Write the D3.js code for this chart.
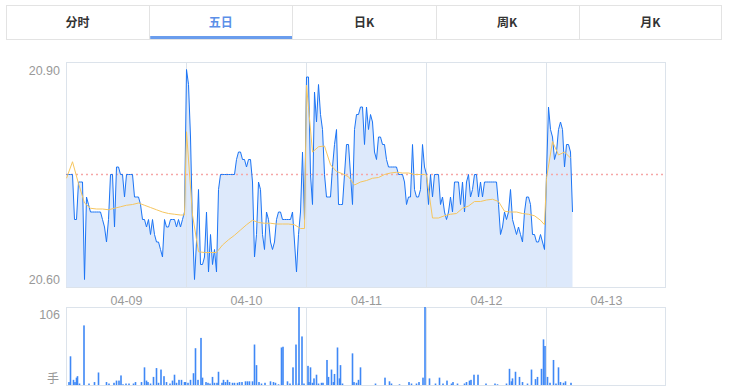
<!DOCTYPE html>
<html><head><meta charset="utf-8">
<script src="https://cdn.jsdelivr.net/npm/d3@7/dist/d3.min.js"></script>
<style>
body{margin:0;background:#fff;font-family:"Liberation Sans",Arial,"Noto Sans CJK SC",sans-serif;}
svg{display:block}
</style></head><body>
<svg id="c" width="729" height="391"></svg>
<script>
// ---------- data ----------
const tabs = ["分时","五日","日K","周K","月K"];
const activeTab = "五日";
const dates = ["04-09","04-10","04-11","04-12","04-13"];
const prevClose = 20.75;
const priceTicks = [20.60, 20.90];
const volMax = 106;
const volUnit = "手";
const minutesPerDay = 240;
const priceStep = 4;   // minutes between price samples
const avgStep = 12;    // minutes between average samples

const day1Price = [20.75,20.75,20.75,20.75,20.69,20.69,20.74,20.74,20.74,20.61,
 20.72,20.71,20.70,20.70,20.70,20.70,20.70,20.70,20.69,20.68,
 20.66,20.69,20.75,20.75,20.68,20.76,20.76,20.75,20.75,20.72,
 20.75,20.75,20.75,20.75,20.72,20.72,20.72,20.71,20.69,20.69,
 20.68,20.69,20.67,20.69,20.67,20.66,20.66,20.65,20.64,20.69,
 20.68,20.68,20.69,20.69,20.69,20.68,20.69,20.68,20.69,20.70];
const day2Price = [20.89,20.87,20.80,20.68,20.61,20.66,20.73,20.63,20.63,20.64,
 20.70,20.62,20.67,20.63,20.65,20.62,20.73,20.75,20.75,20.75,
 20.75,20.75,20.75,20.75,20.75,20.77,20.78,20.78,20.77,20.77,
 20.76,20.77,20.77,20.74,20.64,20.67,20.74,20.73,20.67,20.65,
 20.70,20.69,20.66,20.65,20.66,20.69,20.70,20.70,20.69,20.69,
 20.69,20.69,20.69,20.70,20.66,20.62,20.67,20.70,20.78,20.69];
const day3Price = [20.88,20.88,20.75,20.71,20.86,20.82,20.87,20.83,20.81,20.75,
 20.72,20.72,20.72,20.76,20.79,20.81,20.71,20.71,20.71,20.75,
 20.79,20.79,20.75,20.71,20.81,20.83,20.83,20.84,20.84,20.79,
 20.84,20.81,20.83,20.82,20.78,20.77,20.80,20.80,20.79,20.79,
 20.77,20.76,20.76,20.76,20.76,20.76,20.75,20.75,20.75,20.74,
 20.71,20.72,20.72,20.79,20.73,20.72,20.72,20.73,20.79,20.76];
const day4Price = [20.75,20.71,20.75,20.72,20.75,20.75,20.75,20.71,20.72,20.70,
 20.69,20.70,20.72,20.70,20.74,20.74,20.74,20.71,20.74,20.70,
 20.74,20.75,20.72,20.73,20.75,20.75,20.72,20.74,20.72,20.74,
 20.74,20.74,20.74,20.74,20.74,20.74,20.71,20.67,20.68,20.70,
 20.69,20.70,20.73,20.69,20.68,20.67,20.68,20.67,20.66,20.70,
 20.72,20.72,20.71,20.67,20.67,20.66,20.66,20.67,20.66,20.65];
const day5Price = [20.75,20.84,20.81,20.80,20.77,20.78,20.81,20.82,20.81,20.76,20.79,20.79,20.78,20.70];

const day1Avg = [20.745,20.767,20.738,20.712,20.705,20.704,20.704,20.703,20.705,20.707,20.709,20.710,20.712,20.709,20.706,20.703,20.700,20.698,20.697,20.696,20.696];
const day2Avg = [20.807,20.696,20.647,20.646,20.646,20.646,20.656,20.663,20.669,20.676,20.683,20.689,20.686,20.685,20.685,20.684,20.684,20.684,20.683,20.678,20.678];
const day3Avg = [20.869,20.780,20.787,20.788,20.763,20.754,20.751,20.747,20.736,20.740,20.742,20.745,20.746,20.750,20.752,20.753,20.752,20.752,20.750,20.750,20.750];
const day4Avg = [20.749,20.692,20.692,20.695,20.697,20.698,20.705,20.708,20.714,20.714,20.716,20.717,20.714,20.701,20.700,20.700,20.698,20.697,20.695,20.689,20.683];
const day5Avg = [20.745,20.794,20.776,20.780,20.772];

// [minute from start of 5-day window, volume]
const volumes = [
 [6,4],[9,39],[15,7],[18,4],[21,10],[23,12],[27,2],[36,81],[46,2],[57,4],[65,17],[81,4],[86,2],[96,3],[101,6],[106,6],[110,13],[114,1],[120,2],[126,2],[135,2],[139,4],[151,4],[157,24],[161,6],[164,4],[169,2],[175,11],[181,23],[185,3],[190,21],[196,12],[201,4],[208,2],[213,6],[217,14],[221,3],[226,7],[231,7],[237,4],
 [239,4],[244,3],[249,7],[255,16],[259,50],[264,7],[270,64],[273,10],[280,4],[284,3],[288,2],[293,11],[297,3],[302,3],[305,18],[312,3],[315,7],[319,4],[323,7],[327,4],[333,3],[337,3],[343,3],[347,4],[352,4],[359,5],[363,5],[367,5],[373,5],[377,55],[381,27],[386,4],[391,2],[398,3],[409,5],[415,4],[419,3],[425,1],[431,51],[434,52],[443,5],[448,2],[454,24],[460,55],[465,2],[466,106],[472,66],[476,2],
 [484,26],[486,4],[489,24],[493,3],[496,9],[501,14],[505,2],[511,3],[514,3],[522,34],[525,11],[531,21],[535,4],[537,15],[543,51],[547,9],[549,27],[553,2],[573,43],[576,4],[581,3],[585,7],[589,24],[619,2],[638,10],[647,5],[651,2],[667,1],[686,4],[691,2],[701,2],[706,4],[714,10],[718,106],
 [727,9],[739,2],[747,10],[754,2],[762,6],[771,2],[774,4],[783,2],[797,2],[801,4],[807,6],[810,7],[816,14],[824,14],[840,2],[858,2],[863,1],[881,2],[887,22],[891,5],[893,9],[899,18],[907,11],[913,4],[923,2],[931,21],[939,8],[943,11],[951,22],[955,62],[958,53],[963,11],[968,3],[975,34],[980,2],[985,24],[989,4],[995,3],[999,5],[1010,3]
];

// ---------- build series ----------
const priceDays = [day1Price, day2Price, day3Price, day4Price, day5Price];
const avgDays = [day1Avg, day2Avg, day3Avg, day4Avg, day5Avg];
const pricePts = [];
priceDays.forEach((arr, d) => arr.forEach((v, i) => pricePts.push({m: d*minutesPerDay + i*priceStep + 1, v})));
const avgPts = [];
avgDays.forEach((arr, d) => {
  const last = (priceDays[d].length - 1) * priceStep + 1;
  arr.forEach((v, j) => avgPts.push({m: d*minutesPerDay + Math.min(j*avgStep + 1, last), v}));
});

// ---------- layout ----------
const svg = d3.select("#c");
const W = 729;
const plotL = 66, plotR = 666;
const pTop = 62, pBot = 287;
const vTop = 307, vBot = 385;
const gridColor = "#dce3eb";

// tabs
const tabL = 6, tabR = 722, tabT = 5, tabB = 39;
const tabX = d3.scaleBand().domain(tabs).range([tabL, tabR]);
const tg = svg.append("g");
tg.append("rect").attr("x", tabL+0.5).attr("y", tabT+0.5).attr("width", tabR-tabL-1).attr("height", tabB-tabT)
  .attr("fill", "#fff").attr("stroke", "#e3e3e3");
tabs.forEach((t, i) => {
  const x0 = tabX(t);
  if (i > 0) tg.append("line").attr("x1", Math.round(x0)+0.5).attr("x2", Math.round(x0)+0.5)
     .attr("y1", tabT).attr("y2", tabB).attr("stroke", "#e3e3e3");
  const active = t === activeTab;
  tg.append("text").attr("x", x0 + tabX.bandwidth()/2).attr("y", 26.5)
    .attr("text-anchor", "middle").attr("font-size", 12).attr("font-weight", "bold")
    .attr("font-family", "'Noto Sans CJK SC','Liberation Sans',sans-serif")
    .attr("fill", active ? "#5b8fe8" : "#333").text(t);
  if (active) tg.append("rect").attr("x", x0+1).attr("y", tabB-3).attr("width", tabX.bandwidth()-1).attr("height", 3)
    .attr("fill", "#6a9ded");
});

// scales
const x = d3.scaleLinear().domain([0, dates.length*minutesPerDay]).range([plotL, plotR]);
const y = d3.scaleLinear().domain([priceTicks[0], priceTicks[1]]).range([pBot, pTop]);
const yv = d3.scaleLinear().domain([0, volMax]).range([vBot, vTop]);

// price panel
svg.append("rect").attr("x", plotL+0.5).attr("y", pTop+0.5).attr("width", plotR-plotL-1).attr("height", pBot-pTop)
  .attr("fill", "#fff").attr("stroke", gridColor);

svg.append("path").datum(pricePts)
  .attr("fill", "#dde9fb")
  .attr("d", d3.area().x(d => x(d.m)).y0(pBot).y1(d => y(d.v)));

// day separators
const seps = d3.range(1, dates.length).map(d => d*minutesPerDay);
svg.append("g").selectAll("line").data(seps).join("line")
  .attr("x1", d => Math.round(x(d))+0.5).attr("x2", d => Math.round(x(d))+0.5)
  .attr("y1", pTop).attr("y2", pBot).attr("stroke", gridColor);

svg.append("line").attr("x1", plotL).attr("x2", plotR).attr("y1", y(prevClose)).attr("y2", y(prevClose))
  .attr("stroke", "#f6a7a7").attr("stroke-width", 1.6).attr("stroke-dasharray", "2,3");

svg.append("path").datum(pricePts)
  .attr("fill", "none").attr("stroke", "#1b74f5").attr("stroke-width", 1)
  .attr("d", d3.line().x(d => x(d.m)).y(d => y(d.v)));

svg.append("path").datum(avgPts)
  .attr("fill", "none").attr("stroke", "#f6c65f").attr("stroke-width", 1)
  .attr("d", d3.line().x(d => x(d.m)).y(d => y(d.v)));

// price y labels
const yAxis = svg.append("g").attr("transform", `translate(${plotL-6},0)`)
  .call(d3.axisLeft(y).tickValues(priceTicks).tickFormat(d3.format(".2f")).tickSize(0));
yAxis.select(".domain").remove();
yAxis.selectAll("text").attr("fill", "#999").attr("font-size", 12.5)
  .attr("font-family", "'Liberation Sans',Arial,sans-serif")
  .attr("dy", d => d === priceTicks[1] ? "1.0em" : "-0.25em").attr("x", 0);

// date labels
const xAxis = svg.append("g").attr("transform", `translate(0,${pBot})`)
  .call(d3.axisBottom(x).tickValues(dates.map((_, i) => i*minutesPerDay + minutesPerDay/2))
    .tickFormat((d, i) => dates[i]).tickSize(0));
xAxis.select(".domain").remove();
xAxis.selectAll("text").attr("fill", "#999").attr("font-size", 12.5)
  .attr("font-family", "'Liberation Sans',Arial,sans-serif").attr("y", 17.5).attr("dy", 0);

// volume panel
svg.append("rect").attr("x", plotL+0.5).attr("y", vTop+0.5).attr("width", plotR-plotL-1).attr("height", vBot-vTop)
  .attr("fill", "#fff").attr("stroke", gridColor);
svg.append("g").selectAll("line").data(seps).join("line")
  .attr("x1", d => Math.round(x(d))+0.5).attr("x2", d => Math.round(x(d))+0.5)
  .attr("y1", vTop).attr("y2", vBot).attr("stroke", gridColor);
svg.append("g").selectAll("rect").data(volumes).join("rect")
  .attr("x", d => x(d[0]) - 0.8).attr("width", 1.6)
  .attr("y", d => yv(d[1])).attr("height", d => vBot - yv(d[1]))
  .attr("fill", "#3f88f6");

svg.append("text").attr("x", plotL-6).attr("y", yv(volMax)+12).attr("text-anchor", "end")
  .attr("fill", "#999").attr("font-size", 12.5).attr("font-family", "'Liberation Sans',Arial,sans-serif")
  .text(volMax);
svg.append("text").attr("x", 53).attr("y", vBot-2).attr("text-anchor", "middle")
  .attr("fill", "#999").attr("font-size", 12).attr("font-family", "'Noto Sans CJK SC',sans-serif")
  .text(volUnit);
</script>
</body></html>
